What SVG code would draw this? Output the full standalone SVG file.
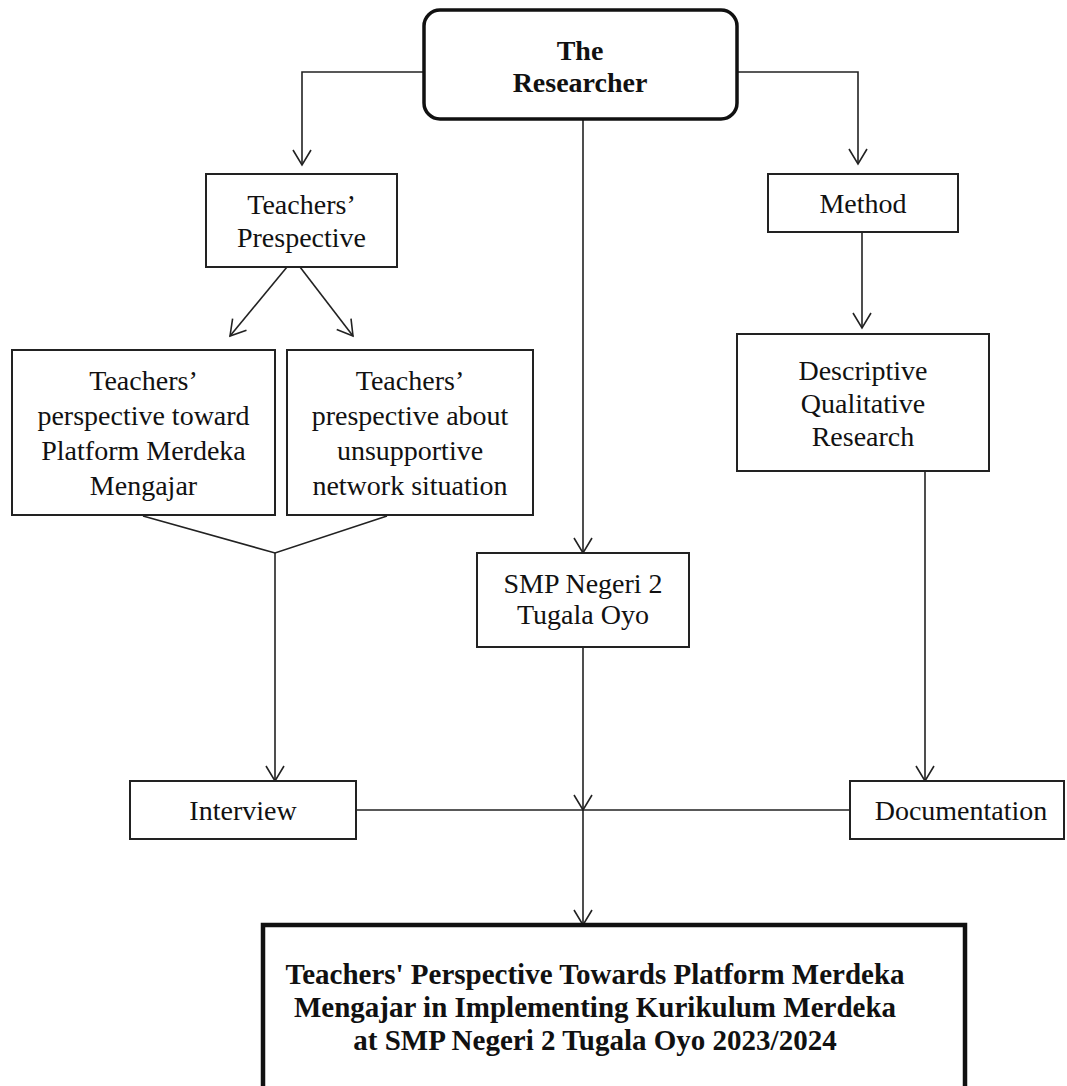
<svg xmlns="http://www.w3.org/2000/svg" width="1067" height="1086" viewBox="0 0 1067 1086">
  <style>
    .box { fill: #ffffff; stroke: #222; stroke-width: 2; }
    .txt { font-family: "Liberation Serif", "Times New Roman", serif; font-size: 28px; fill: #111; text-anchor: middle; }
    .bold { font-weight: bold; }
    .title { font-size: 29px; }
    .conn { fill: none; stroke: #222; stroke-width: 1.6; }
  </style>
  <defs>
    <marker id="arrow" markerUnits="userSpaceOnUse" markerWidth="20" markerHeight="20" refX="16" refY="10" orient="auto">
      <path d="M 1 1 L 16 10 L 1 19" fill="none" stroke="#222" stroke-width="1.6"/>
    </marker>
  </defs>
  <rect width="1067" height="1086" fill="#ffffff"/>

  <g id="connectors">
    <polyline class="conn" points="424,72 302,72 302,165" marker-end="url(#arrow)"/>
    <polyline class="conn" points="737,72 858,72 858,164" marker-end="url(#arrow)"/>
    <line class="conn" x1="583" y1="119" x2="583" y2="553" marker-end="url(#arrow)"/>
    <line class="conn" x1="287" y1="267" x2="230" y2="336" marker-end="url(#arrow)"/>
    <line class="conn" x1="300" y1="267" x2="353" y2="336" marker-end="url(#arrow)"/>
    <line class="conn" x1="862" y1="232" x2="862" y2="328" marker-end="url(#arrow)"/>
    <polyline class="conn" points="143,516 275,553 387,516"/>
    <line class="conn" x1="275" y1="553" x2="275" y2="781" marker-end="url(#arrow)"/>
    <line class="conn" x1="925" y1="471" x2="925" y2="781" marker-end="url(#arrow)"/>
    <line class="conn" x1="583" y1="647" x2="583" y2="810" marker-end="url(#arrow)"/>
    <line class="conn" x1="356" y1="810" x2="850" y2="810"/>
    <line class="conn" x1="583" y1="810" x2="583" y2="925" marker-end="url(#arrow)"/>
  </g>

  <g id="researcher">
    <rect x="424" y="10" width="313" height="109" rx="16" ry="16" fill="#ffffff" stroke="#111" stroke-width="3.5"/>
    <text class="txt bold" x="580" y="60">The</text>
    <text class="txt bold" x="580" y="92">Researcher</text>
  </g>

  <g id="teachers-prespective">
    <rect class="box" x="206" y="174" width="191" height="93"/>
    <text class="txt" x="301.5" y="214">Teachers’</text>
    <text class="txt" x="301.5" y="247">Prespective</text>
  </g>

  <g id="method">
    <rect class="box" x="768" y="174" width="190" height="58"/>
    <text class="txt" x="863" y="213">Method</text>
  </g>

  <g id="perspective-platform">
    <rect class="box" x="12" y="350" width="263" height="165"/>
    <text class="txt" x="143.5" y="390">Teachers’</text>
    <text class="txt" x="143.5" y="425">perspective toward</text>
    <text class="txt" x="143.5" y="460">Platform Merdeka</text>
    <text class="txt" x="143.5" y="495">Mengajar</text>
  </g>

  <g id="perspective-network">
    <rect class="box" x="287" y="350" width="246" height="165"/>
    <text class="txt" x="410" y="390">Teachers’</text>
    <text class="txt" x="410" y="425">prespective about</text>
    <text class="txt" x="410" y="460">unsupportive</text>
    <text class="txt" x="410" y="495">network situation</text>
  </g>

  <g id="descriptive">
    <rect class="box" x="737" y="334" width="252" height="137"/>
    <text class="txt" x="863" y="380">Descriptive</text>
    <text class="txt" x="863" y="413">Qualitative</text>
    <text class="txt" x="863" y="446">Research</text>
  </g>

  <g id="smp">
    <rect class="box" x="477" y="553" width="212" height="94"/>
    <text class="txt" x="583" y="593">SMP Negeri 2</text>
    <text class="txt" x="583" y="624">Tugala Oyo</text>
  </g>

  <g id="interview">
    <rect class="box" x="130" y="781" width="226" height="58"/>
    <text class="txt" x="243" y="820">Interview</text>
  </g>

  <g id="documentation">
    <rect class="box" x="850" y="781" width="214" height="58"/>
    <text class="txt" x="961" y="820">Documentation</text>
  </g>

  <g id="result">
    <rect x="263" y="925" width="702" height="175" fill="#ffffff" stroke="#111" stroke-width="4.5"/>
    <text class="txt bold title" x="595" y="984">Teachers' Perspective Towards Platform Merdeka</text>
    <text class="txt bold title" x="595" y="1017">Mengajar in Implementing Kurikulum Merdeka</text>
    <text class="txt bold title" x="595" y="1050">at SMP Negeri 2 Tugala Oyo 2023/2024</text>
  </g>
</svg>
